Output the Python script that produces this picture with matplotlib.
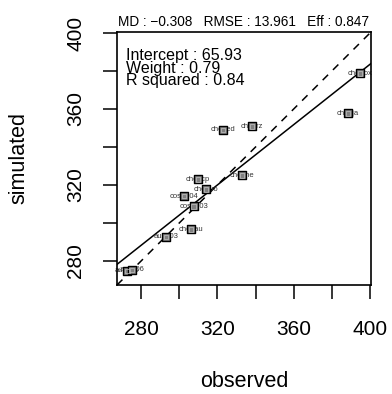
import matplotlib
matplotlib.use("Agg")
import matplotlib.pyplot as plt
import numpy as np

plt.rcParams['font.family'] = ['Liberation Sans', 'DejaVu Sans']

# station labels, observed and simulated values
names = ["chedox", "chezja", "chezed", "chezrz", "chezhe", "chezcp",
         "chezuo", "cos0104", "cos0103", "chezau", "aus003", "aus005", "aus006"]
observed = [394.7, 388.5, 323.1, 338.1, 333.0, 309.7,
            313.9, 302.5, 307.5, 306.2, 293.1, 272.8, 275.1]
simulated = [378.7, 357.7, 349.0, 350.8, 325.1, 323.0,
             317.7, 314.2, 308.8, 296.6, 292.7, 274.9, 275.3]

md = -0.308
rmse = 13.961
eff = 0.847
intercept = 65.93
weight = 0.794
r_squared = 0.84

ticks = [280, 320, 360, 400]
lims = (267.4, 400.5)

fig = plt.figure(figsize=(3.92, 3.94), dpi=100)
ax = fig.add_axes([117 / 392, 1 - 285 / 394, (371 - 117) / 392, (285 - 32) / 394])

# 1:1 line and regression line
xs = np.array(lims)
ax.plot(xs, xs, color="black", lw=1.1, dashes=(5, 4.5))
ax.plot(xs, intercept + weight * xs, color="black", lw=1.1)

for n, x, y in zip(names, observed, simulated):
    ax.text(x, y, n, fontsize=5.5, ha="center", va="center", color="#333333", zorder=2)
ax.scatter(observed, simulated, marker="s", s=36, facecolor="#808080",
           edgecolor="black", linewidth=1.0, zorder=3)
ax.scatter(observed, simulated, marker="s", s=10, facecolor="none",
           edgecolor="#c0c0c0", linewidth=0.5, zorder=4)

ax.set_xlim(lims)
ax.set_ylim(lims)
ax.set_xticks(ticks)
ax.set_yticks(ticks)
ax.set_xticks([300, 340, 380], minor=True)
ax.set_yticks([300, 340, 380], minor=True)
ax.tick_params(which="both", direction="out", length=10, width=1.1, labelsize=15, pad=13)
ax.tick_params(axis="x", which="both", pad=15)
for lab in ax.get_yticklabels():
    lab.set_rotation(90)
    lab.set_va("center")
for sp in ax.spines.values():
    sp.set_linewidth(1.2)

ax.set_xlabel("observed", fontsize=15.5, labelpad=23)
ax.set_ylabel("simulated", fontsize=15.5, labelpad=26)

stats = "MD : %.3f   RMSE : %.3f   Eff : %.3f" % (md, rmse, eff)
ax.text(0.5, 1.012, stats.replace("-", "\u2212"),
        transform=ax.transAxes, ha="center", va="bottom", fontsize=9.8)
ax.text(0.035, 0.935, "Intercept : %.2f\nWeight : %.2f\nR squared : %.2f" % (intercept, weight, r_squared),
        transform=ax.transAxes, ha="left", va="top", fontsize=11.5, linespacing=0.78)

fig.savefig("out.png", dpi=100)
